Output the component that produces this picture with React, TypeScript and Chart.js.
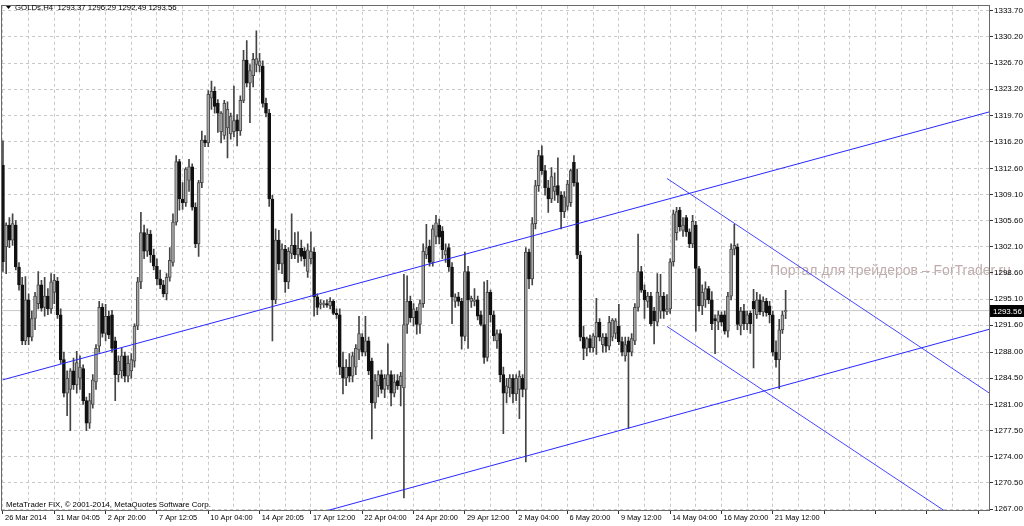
import React, { useEffect, useRef } from 'react';
import { Chart, registerables } from 'chart.js';

Chart.register(...registerables);

// ---------- data ----------
const symbolName = 'GOLDs,H4';
const copyrightText = 'MetaTrader FIX, \u00A9 2001-2014, MetaQuotes Software Corp.';
const watermarkText = 'Портал для трейдеров \u2013 ForTrader.ru';

const xLabels = [
  '26 Mar 2014', '31 Mar 04:05', '2 Apr 20:00', '7 Apr 12:05', '10 Apr 04:00', '14 Apr 20:05',
  '17 Apr 12:00', '22 Apr 04:00', '24 Apr 20:00', '29 Apr 12:00', '2 May 04:00', '6 May 20:00',
  '9 May 12:00', '14 May 04:00', '16 May 20:00', '21 May 12:00',
];
const barsPerLabel = 16;
const barsPerGrid = 8;

const yTicks = [
  1333.7, 1330.2, 1326.7, 1323.2, 1319.7, 1316.2, 1312.6, 1309.1, 1305.6, 1302.1,
  1298.6, 1295.1, 1291.6, 1288.0, 1284.5, 1281.0, 1277.5, 1274.0, 1270.5, 1267.0,
];

const opens = [
  1313.0, 1302.1, 1305.0, 1303.0, 1305.0, 1299.4, 1297.0, 1289.5, 1295.0, 1290.0,
  1292.5, 1294.5, 1297.0, 1294.0, 1295.5, 1293.8, 1296.0, 1297.5, 1293.0, 1287.0,
  1282.5, 1283.0, 1285.5, 1283.6, 1284.5, 1285.8, 1281.5, 1278.5, 1281.0, 1284.0,
  1288.8, 1294.0, 1290.5, 1292.8, 1293.0, 1289.5, 1285.0, 1285.5, 1287.5, 1284.8,
  1285.5, 1286.8, 1291.5, 1297.4, 1304.0, 1301.5, 1303.8, 1301.0, 1299.5, 1297.8,
  1297.0, 1295.8, 1298.0, 1300.0, 1305.4, 1313.5, 1308.5, 1308.0, 1311.0, 1312.8,
  1307.4, 1302.5, 1310.7, 1316.4, 1316.0, 1322.0, 1322.9, 1321.3, 1317.5, 1317.0,
  1318.0, 1317.2, 1317.5, 1319.1, 1317.6, 1321.7, 1327.1, 1324.0, 1325.0, 1326.5,
  1326.3, 1326.3, 1321.3, 1320.0, 1308.5, 1295.0, 1303.0, 1299.8, 1301.8, 1297.4,
  1301.2, 1302.3, 1301.0, 1301.9, 1301.5, 1298.8, 1300.5, 1301.4, 1295.4, 1294.4,
  1294.4, 1294.5, 1294.2, 1294.8, 1293.2, 1293.0, 1286.0, 1284.5, 1286.0, 1284.8,
  1286.0, 1288.3, 1290.0, 1288.0, 1289.5, 1286.8, 1281.2, 1283.5, 1285.0, 1283.0,
  1283.5, 1285.0, 1282.5, 1284.2, 1283.5, 1283.2, 1291.7, 1294.8, 1292.6, 1293.5,
  1291.7, 1294.5, 1301.0, 1302.2, 1300.0, 1303.5, 1305.0, 1304.2, 1301.0, 1302.0,
  1299.4, 1294.8, 1295.4, 1294.8, 1290.1, 1298.8, 1294.8, 1294.8, 1295.0, 1293.0,
  1291.7, 1287.3, 1296.0, 1293.0, 1289.5, 1290.5, 1285.0, 1282.5, 1283.2, 1284.5,
  1282.4, 1283.0, 1284.5, 1283.0, 1301.4, 1297.8, 1305.2, 1310.3, 1314.3, 1312.3,
  1310.0, 1308.5, 1309.5, 1310.3, 1309.0, 1306.8, 1307.5, 1308.0, 1313.4, 1310.7,
  1301.0, 1290.0, 1288.5, 1289.8, 1288.6, 1290.0, 1292.0, 1289.0, 1290.0, 1288.8,
  1290.0, 1290.5, 1291.5, 1289.4, 1287.5, 1289.5, 1288.0, 1289.5, 1294.0, 1298.8,
  1296.3, 1294.8, 1295.5, 1293.5, 1292.0, 1293.5, 1295.5, 1293.4, 1293.8, 1300.1,
  1304.0, 1307.0, 1304.3, 1306.0, 1304.1, 1302.5, 1305.0, 1299.2, 1294.2, 1295.0,
  1296.5, 1295.0, 1292.5, 1292.0, 1293.0, 1293.0, 1290.8, 1295.5, 1301.8, 1302.1,
  1291.5, 1293.5, 1291.8, 1293.2, 1294.8, 1293.0, 1295.0, 1293.4, 1294.8, 1294.2,
  1293.0, 1288.0, 1287.0, 1291.0, 1293.37,
];

const highs = [
  1316.3, 1305.3, 1306.0, 1306.5, 1305.6, 1300.0, 1298.0, 1298.1, 1295.8, 1293.5,
  1296.0, 1298.8, 1297.6, 1298.0, 1296.5, 1298.5, 1298.4, 1298.0, 1293.8, 1288.0,
  1285.5, 1285.8, 1287.2, 1288.1, 1287.5, 1286.3, 1282.0, 1282.5, 1285.0, 1289.0,
  1294.8, 1294.5, 1294.4, 1293.5, 1293.6, 1290.0, 1287.5, 1288.5, 1288.0, 1287.5,
  1287.8, 1291.8, 1298.0, 1306.7, 1305.0, 1304.5, 1304.3, 1301.8, 1300.5, 1299.0,
  1297.6, 1298.5, 1302.0, 1306.5, 1314.3, 1313.8, 1310.7, 1312.7, 1313.8, 1313.2,
  1308.0, 1311.0, 1317.6, 1317.0, 1323.0, 1324.3, 1323.5, 1321.8, 1320.2, 1321.7,
  1321.5, 1320.0, 1323.6, 1319.8, 1322.3, 1328.4, 1329.7, 1326.5, 1328.0, 1331.0,
  1328.0, 1327.0, 1322.0, 1320.5, 1309.0, 1304.5, 1304.3, 1302.5, 1302.3, 1302.0,
  1306.5, 1304.0, 1304.1, 1303.0, 1302.0, 1302.5, 1304.1, 1302.0, 1295.8, 1295.0,
  1294.9, 1295.0, 1295.3, 1295.0, 1293.8, 1293.8, 1288.0, 1287.0, 1287.8, 1288.0,
  1289.0, 1292.8, 1290.5, 1292.8, 1290.0, 1287.2, 1285.0, 1285.5, 1285.6, 1285.0,
  1289.1, 1285.5, 1285.0, 1285.0, 1285.3, 1298.4, 1298.2, 1295.5, 1294.5, 1294.0,
  1295.0, 1302.5, 1305.1, 1303.0, 1305.0, 1306.3, 1305.8, 1304.8, 1302.5, 1302.5,
  1300.0, 1295.8, 1296.0, 1295.2, 1301.4, 1299.5, 1295.5, 1296.5, 1295.5, 1293.5,
  1297.4, 1297.6, 1296.3, 1293.5, 1291.0, 1291.0, 1286.0, 1284.5, 1285.0, 1285.0,
  1285.0, 1285.5, 1285.0, 1302.0, 1301.8, 1306.0, 1311.0, 1315.0, 1315.6, 1313.0,
  1311.0, 1312.7, 1312.0, 1314.0, 1309.5, 1309.5, 1311.0, 1312.5, 1314.3, 1312.5,
  1301.5, 1291.5, 1290.0, 1290.3, 1290.5, 1295.2, 1292.5, 1290.5, 1290.5, 1292.8,
  1292.5, 1292.5, 1294.4, 1290.0, 1290.0, 1290.0, 1290.5, 1294.5, 1303.8, 1299.5,
  1297.0, 1296.0, 1296.0, 1294.0, 1298.5, 1298.4, 1296.0, 1295.7, 1300.5, 1307.0,
  1307.4, 1307.4, 1306.0, 1306.3, 1304.5, 1306.3, 1305.5, 1299.5, 1297.0, 1297.4,
  1296.8, 1296.1, 1293.0, 1293.5, 1293.4, 1293.5, 1296.0, 1302.5, 1305.1, 1302.5,
  1294.0, 1294.4, 1293.5, 1293.5, 1296.4, 1296.0, 1295.7, 1295.4, 1295.2, 1294.8,
  1293.5, 1289.5, 1292.4, 1293.5, 1296.29,
];

const lows = [
  1298.8, 1298.5, 1302.0, 1302.3, 1299.0, 1296.3, 1289.0, 1289.0, 1289.0, 1289.5,
  1291.0, 1293.8, 1293.5, 1292.8, 1293.0, 1293.2, 1294.5, 1292.5, 1286.5, 1282.0,
  1279.5, 1277.5, 1283.0, 1282.5, 1283.0, 1281.0, 1277.5, 1277.8, 1280.5, 1283.0,
  1288.0, 1290.0, 1289.5, 1289.8, 1288.0, 1281.5, 1284.0, 1284.5, 1284.0, 1284.0,
  1284.5, 1286.0, 1291.0, 1296.5, 1300.5, 1300.8, 1300.0, 1299.0, 1297.0, 1296.5,
  1295.4, 1295.0, 1297.5, 1299.5, 1305.0, 1307.0, 1307.1, 1307.5, 1309.5, 1307.0,
  1302.0, 1300.8, 1310.0, 1315.5, 1315.5, 1320.5, 1320.0, 1317.4, 1316.0, 1316.5,
  1314.0, 1316.5, 1316.8, 1315.6, 1317.0, 1321.4, 1323.5, 1318.7, 1323.5, 1325.5,
  1325.5, 1320.8, 1319.5, 1307.5, 1289.5, 1294.5, 1299.0, 1298.5, 1296.0, 1296.5,
  1300.5, 1300.5, 1300.0, 1300.2, 1299.5, 1298.0, 1299.8, 1292.8, 1293.0, 1293.8,
  1294.0, 1294.0, 1293.8, 1293.0, 1292.5, 1285.0, 1282.4, 1283.5, 1284.0, 1284.0,
  1285.0, 1287.0, 1287.5, 1287.5, 1285.0, 1276.4, 1280.5, 1282.0, 1282.5, 1281.9,
  1283.0, 1280.8, 1282.0, 1283.0, 1280.8, 1268.5, 1290.5, 1292.0, 1291.5, 1290.4,
  1290.5, 1294.0, 1300.5, 1299.5, 1299.5, 1302.5, 1302.5, 1300.5, 1300.0, 1298.8,
  1291.8, 1294.0, 1294.2, 1288.4, 1289.5, 1288.5, 1294.0, 1294.2, 1292.3, 1291.5,
  1286.5, 1286.8, 1292.0, 1289.5, 1288.5, 1284.0, 1277.1, 1281.2, 1282.0, 1281.2,
  1281.5, 1279.1, 1282.0, 1273.3, 1296.5, 1297.0, 1304.5, 1309.5, 1311.8, 1309.0,
  1306.7, 1308.0, 1308.3, 1308.0, 1304.5, 1306.0, 1307.0, 1307.5, 1310.2, 1300.5,
  1289.5, 1287.0, 1287.5, 1288.0, 1288.0, 1287.7, 1289.5, 1288.0, 1288.0, 1288.3,
  1289.5, 1289.8, 1289.0, 1287.5, 1286.8, 1277.8, 1287.5, 1289.0, 1293.5, 1296.0,
  1292.5, 1294.0, 1291.5, 1289.1, 1291.5, 1292.5, 1292.5, 1293.0, 1293.2, 1299.5,
  1303.0, 1304.2, 1303.5, 1303.5, 1302.0, 1302.0, 1290.8, 1293.5, 1293.0, 1294.0,
  1294.5, 1291.0, 1287.8, 1291.0, 1291.5, 1290.4, 1290.0, 1295.0, 1301.0, 1291.0,
  1290.3, 1291.0, 1291.0, 1290.5, 1285.9, 1292.5, 1293.0, 1292.8, 1292.8, 1291.9,
  1287.5, 1286.0, 1283.1, 1290.5, 1292.49,
];

const closes = [
  1300.1, 1305.0, 1303.0, 1305.2, 1299.4, 1297.0, 1289.5, 1295.0, 1290.0, 1292.5,
  1295.5, 1297.0, 1293.9, 1295.5, 1293.8, 1297.4, 1297.6, 1293.0, 1287.0, 1282.5,
  1284.5, 1285.5, 1283.6, 1286.6, 1286.0, 1281.5, 1278.5, 1281.5, 1284.3, 1288.5,
  1294.0, 1290.5, 1292.8, 1290.3, 1288.5, 1285.0, 1286.8, 1287.5, 1284.8, 1286.5,
  1287.0, 1291.5, 1297.4, 1304.0, 1301.5, 1303.8, 1301.0, 1299.5, 1297.8, 1297.0,
  1295.8, 1298.0, 1300.3, 1305.4, 1313.5, 1308.5, 1308.0, 1312.5, 1312.8, 1307.4,
  1302.5, 1310.7, 1316.4, 1316.0, 1322.5, 1322.9, 1320.9, 1320.0, 1320.0, 1321.3,
  1320.5, 1319.6, 1319.0, 1317.6, 1321.7, 1327.1, 1324.0, 1325.7, 1327.2, 1327.3,
  1327.0, 1321.3, 1320.0, 1308.5, 1295.0, 1303.0, 1299.8, 1301.8, 1297.4, 1301.5,
  1302.3, 1301.0, 1301.9, 1300.8, 1300.5, 1301.7, 1301.5, 1295.4, 1294.0, 1294.6,
  1294.5, 1294.3, 1294.8, 1293.2, 1293.0, 1286.0, 1284.5, 1286.0, 1284.8, 1287.5,
  1288.5, 1290.5, 1288.0, 1289.5, 1285.5, 1281.2, 1284.2, 1285.0, 1283.0, 1284.5,
  1285.0, 1282.5, 1284.0, 1283.5, 1284.8, 1291.7, 1294.8, 1292.6, 1293.8, 1291.7,
  1294.5, 1301.5, 1302.0, 1300.0, 1304.5, 1305.3, 1303.4, 1301.7, 1301.6, 1299.4,
  1295.4, 1295.4, 1294.8, 1290.1, 1298.8, 1295.0, 1295.2, 1295.0, 1292.8, 1291.7,
  1287.3, 1296.0, 1293.0, 1290.2, 1290.5, 1285.0, 1282.5, 1283.5, 1284.5, 1282.4,
  1284.5, 1284.8, 1283.0, 1301.4, 1297.8, 1305.2, 1310.3, 1314.3, 1312.3, 1310.0,
  1308.5, 1311.5, 1310.2, 1309.0, 1306.8, 1308.8, 1310.5, 1312.3, 1310.7, 1301.0,
  1290.0, 1288.5, 1289.8, 1288.6, 1290.2, 1292.0, 1290.0, 1290.0, 1288.8, 1292.0,
  1292.3, 1292.2, 1289.4, 1288.0, 1289.0, 1288.0, 1289.8, 1294.0, 1298.8, 1296.3,
  1295.0, 1295.5, 1291.8, 1292.2, 1296.0, 1295.5, 1293.5, 1293.8, 1300.1, 1306.5,
  1306.8, 1304.8, 1305.0, 1304.1, 1302.5, 1305.5, 1299.2, 1294.2, 1296.0, 1296.5,
  1295.0, 1291.8, 1292.2, 1293.0, 1292.0, 1290.8, 1295.5, 1301.8, 1302.3, 1291.7,
  1293.5, 1291.8, 1293.0, 1291.8, 1293.8, 1295.0, 1293.4, 1294.8, 1293.3, 1293.0,
  1288.0, 1287.0, 1291.0, 1293.0, 1293.56,
];

// trend lines, as [bar index, price] end points
const upperChannel = [{ x: 0, y: 1284.3 }, { x: 307.4, y: 1320.15 }];
const lowerChannel = [{ x: 0, y: 1254.9 }, { x: 307.4, y: 1291.05 }];
const fallingUpper = [{ x: 207, y: 1311.25 }, { x: 307.4, y: 1282.55 }];
const fallingLower = [{ x: 207, y: 1291.45 }, { x: 307.4, y: 1262.8 }];

const xMin = -0.3;
const xMax = 307.4;
const yMin = 1266.87;
const yMax = 1334.36;

// ---------- styles ----------
const FONT = '"Liberation Sans", Arial, sans-serif';
const lastIdx = closes.length - 1;
const lastPrice = closes[lastIdx];

const decorPlugin = {
  id: 'decor',
  beforeDraw(chart: any) {
    const { ctx } = chart;
    ctx.save();
    ctx.fillStyle = '#ffffff';
    ctx.fillRect(0, 0, chart.width, chart.height);
    ctx.font = `14px ${FONT}`;
    ctx.fillStyle = 'rgb(192,172,172)';
    ctx.textBaseline = 'middle';
    ctx.textAlign = 'left';
    ctx.fillText(watermarkText, 770, 271);
    ctx.restore();
  },
  afterDraw(chart: any) {
    const { ctx, chartArea: a } = chart;
    const ys = chart.scales.y;
    ctx.save();
    // frame
    ctx.strokeStyle = '#6a6a6a';
    ctx.lineWidth = 1;
    ctx.strokeRect(Math.round(a.left) - 0.5, Math.round(a.top) - 0.5, Math.round(a.right - a.left) + 1, Math.round(a.bottom - a.top) + 1);
    // header
    ctx.fillStyle = '#000';
    ctx.beginPath();
    ctx.moveTo(6, 6);
    ctx.lineTo(11, 6);
    ctx.lineTo(8.5, 9);
    ctx.closePath();
    ctx.fill();
    ctx.font = `7.8px ${FONT}`;
    ctx.textBaseline = 'middle';
    ctx.textAlign = 'left';
    const hdr = `${symbolName}  ${opens[lastIdx].toFixed(2)} ${highs[lastIdx].toFixed(2)} ${lows[lastIdx].toFixed(2)} ${closes[lastIdx].toFixed(2)}`;
    ctx.fillText(hdr, 15, 8);
    // footer
    ctx.fillText(copyrightText, 6, 505);
    // current price box
    const py = Math.round(ys.getPixelForValue(lastPrice));
    ctx.fillStyle = '#000';
    ctx.fillRect(Math.round(a.right) + 1, py - 6, chart.width - Math.round(a.right) - 1, 12);
    ctx.fillStyle = '#fff';
    ctx.font = `8px ${FONT}`;
    ctx.fillText(lastPrice.toFixed(2), Math.round(a.right) + 4, py + 0.5);
    ctx.restore();
  },
};

export default function App() {
  const ref = useRef<HTMLCanvasElement | null>(null);

  useEffect(() => {
    document.body.style.margin = '0';
    const canvas = ref.current;
    if (!canvas) return;

    const wicks = lows.map((l, i) => ({ x: i, y: [l, highs[i]] }));
    const bodies = opens.map((o, i) => ({ x: i, y: [o, closes[i]] }));
    const isUp = opens.map((o, i) => closes[i] >= o);
    const priceLine = [{ x: xMin, y: lastPrice }, { x: xMax, y: lastPrice }];

    const chart = new Chart(canvas, {
      type: 'bar',
      data: {
        datasets: [
          {
            type: 'line',
            data: upperChannel,
            borderColor: 'rgb(40,40,255)',
            borderWidth: 1,
            pointRadius: 0,
            order: 0,
          } as any,
          {
            type: 'line',
            data: lowerChannel,
            borderColor: 'rgb(40,40,255)',
            borderWidth: 1,
            pointRadius: 0,
            order: 0,
          } as any,
          {
            type: 'line',
            data: fallingUpper,
            borderColor: 'rgb(70,70,255)',
            borderWidth: 1,
            pointRadius: 0,
            order: 0,
          } as any,
          {
            type: 'line',
            data: fallingLower,
            borderColor: 'rgb(70,70,255)',
            borderWidth: 1,
            pointRadius: 0,
            order: 0,
          } as any,
          {
            type: 'bar',
            data: bodies,
            backgroundColor: isUp.map((u) => (u ? '#a8a8a8' : '#111111')),
            borderColor: isUp.map((u) => (u ? '#4a4a4a' : '#111111')),
            borderWidth: 1,
            borderSkipped: false,
            barThickness: 3,
            grouped: false,
            order: 1,
          } as any,
          {
            type: 'bar',
            data: wicks,
            backgroundColor: '#444444',
            borderWidth: 0,
            barThickness: 1,
            grouped: false,
            order: 2,
          } as any,
          {
            type: 'line',
            data: priceLine,
            borderColor: '#c8c8c8',
            borderWidth: 1,
            pointRadius: 0,
            order: 5,
          } as any,
        ],
      },
      options: {
        responsive: false,
        animation: false,
        devicePixelRatio: 1,
        layout: { padding: { left: 2, top: 2, right: 0, bottom: 0 } },
        plugins: { legend: { display: false }, tooltip: { enabled: false } },
        events: [],
        scales: {
          x: {
            type: 'linear',
            min: xMin,
            max: xMax,
            offset: false,
            afterBuildTicks: (s: any) => {
              const t: any[] = [];
              for (let v = 0; v <= xMax; v += barsPerGrid) t.push({ value: v });
              s.ticks = t;
            },
            afterFit: (s: any) => {
              s.height = 16;
            },
            grid: {
              offset: false,
              color: '#c8c8c8',
              lineWidth: 1,
              drawTicks: true,
              tickLength: 4,
              tickWidth: 1,
              tickBorderDash: [],
              tickColor: (c: any) =>
                c.tick && c.tick.value % barsPerLabel === 0 ? '#333' : 'rgba(0,0,0,0)',
            },
            border: { display: false, dash: [3, 3] },
            ticks: {
              autoSkip: false,
              maxRotation: 0,
              minRotation: 0,
              align: 'start',
              padding: 0,
              color: '#000',
              font: { family: FONT, size: 7.4 },
              callback: (v: any) => {
                const n = Number(v);
                if (n % barsPerLabel !== 0) return '';
                const k = n / barsPerLabel;
                return k < xLabels.length ? ' ' + xLabels[k] : '';
              },
            },
          },
          y: {
            type: 'linear',
            position: 'right',
            min: yMin,
            max: yMax,
            afterBuildTicks: (s: any) => {
              s.ticks = yTicks.map((v) => ({ value: v }));
            },
            afterFit: (s: any) => {
              s.width = 35;
            },
            grid: {
              color: '#c8c8c8',
              lineWidth: 1,
              drawTicks: true,
              tickLength: 4,
              tickBorderDash: [],
              tickColor: '#333',
            },
            border: { display: false, dash: [3, 3] },
            ticks: {
              padding: 1,
              color: '#000',
              font: { family: FONT, size: 8 },
              callback: (v: any) => Number(v).toFixed(2),
            },
          },
        },
      } as any,
      plugins: [decorPlugin],
    });

    return () => chart.destroy();
  }, []);

  return (
    <div style={{ width: 1024, height: 526 }}>
      <canvas ref={ref} width={1024} height={526} style={{ display: 'block', width: 1024, height: 526 }} />
    </div>
  );
}
